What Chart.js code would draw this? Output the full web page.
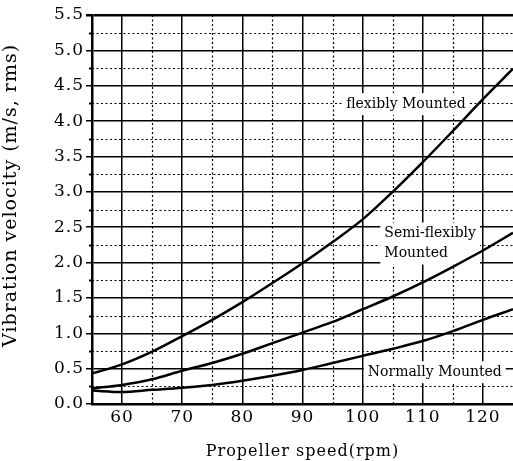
<!DOCTYPE html>
<html>
<head>
<meta charset="utf-8">
<script src="https://cdn.jsdelivr.net/npm/chart.js@4/dist/chart.umd.min.js"></script>
<style>
  html, body { margin: 0; padding: 0; background: #fff; overflow: hidden; }
  #wrap { width: 513px; height: 461px; position: relative; }
</style>
</head>
<body>
<div id="wrap"><canvas id="myChart"></canvas></div>
<script>
// propeller speed (rpm)
var speeds = [55, 60, 65, 70, 75, 80, 85, 90, 95, 100, 105, 110, 115, 120, 125]
var xTicks = [60, 70, 80, 90, 100, 110, 120]
// vibration velocity (m/s, rms)
var flexibly = [0.43, 0.56, 0.74, 0.96, 1.19, 1.44, 1.71, 1.99, 2.29, 2.61, 3.00, 3.42, 3.86, 4.31, 4.74]
var semiFlexibly = [0.22, 0.27, 0.35, 0.47, 0.58, 0.71, 0.86, 1.01, 1.16, 1.34, 1.52, 1.72, 1.94, 2.17, 2.42]
var normally = [0.19, 0.17, 0.20, 0.23, 0.27, 0.33, 0.40, 0.48, 0.58, 0.68, 0.78, 0.89, 1.03, 1.19, 1.34]

var labels = [
  { lines: ["flexibly Mounted"], x: 107.2, y: 4.24, align: "center" },
  { lines: ["Semi-flexibly", "Mounted"], x: 103.6, y: 2.41, align: "left" },
  { lines: ["Normally Mounted"], x: 112.0, y: 0.45, align: "center" }
]

var FONT = "DejaVu Serif"
Chart.defaults.font.family = FONT
Chart.defaults.color = "#000"

function toPoints(ys) {
  return speeds.map(function (s, i) { return { x: s, y: ys[i] } })
}

// dotted minor grid, small ticks on the left axis, curve labels (under the curves)
var minorGrid = {
  id: "minorGrid",
  beforeInit: function (chart) { chart.ctx.letterSpacing = "1px" },
  beforeDraw: function (chart) { chart.ctx.letterSpacing = "1px" },
  beforeDatasetsDraw: function (chart) {
    var ctx = chart.ctx, xs = chart.scales.x, ys = chart.scales.y, a = chart.chartArea
    ctx.save()
    ctx.strokeStyle = "#000"
    ctx.lineWidth = 1.2
    ctx.setLineDash([2, 2.5])
    for (var v = 65; v < 125; v += 10) {
      var px = Math.round(xs.getPixelForValue(v)) + 0.5
      ctx.beginPath(); ctx.moveTo(px, a.top); ctx.lineTo(px, a.bottom); ctx.stroke()
    }
    for (var w = 0.25; w < 5.5; w += 0.5) {
      var py = Math.round(ys.getPixelForValue(w)) + 0.5
      ctx.beginPath(); ctx.moveTo(a.left, py); ctx.lineTo(a.right, py); ctx.stroke()
    }
    ctx.setLineDash([])
    ctx.lineWidth = 2
    for (var u = 0.25; u < 5.5; u += 0.5) {
      var ty = Math.round(ys.getPixelForValue(u)) + 0.5
      ctx.beginPath(); ctx.moveTo(a.left - 3, ty); ctx.lineTo(a.left, ty); ctx.stroke()
    }

    ctx.letterSpacing = "0px"
    ctx.font = "14px " + FONT
    ctx.textBaseline = "middle"
    labels.forEach(function (l) {
      var lx = xs.getPixelForValue(l.x), ly = ys.getPixelForValue(l.y)
      var lh = 20
      var wmax = 0
      l.lines.forEach(function (t) { wmax = Math.max(wmax, ctx.measureText(t).width) })
      var left = l.align === "center" ? lx - wmax / 2 : lx
      var top = ly - lh / 2
      ctx.fillStyle = "#fff"
      ctx.fillRect(left - 4, top - 1, wmax + 8, lh * l.lines.length + 2)
      ctx.fillStyle = "#000"
      ctx.textAlign = "left"
      l.lines.forEach(function (t, i) {
        ctx.fillText(t, left, ly + i * lh)
      })
    })
    ctx.restore()
  }
}

var lineStyle = {
  borderColor: "#000",
  borderWidth: 2.5,
  pointRadius: 0,
  cubicInterpolationMode: "monotone",
  fill: false
}

var chart = new Chart(document.getElementById("myChart").getContext("2d"), {
  type: "line",
  data: {
    datasets: [
      Object.assign({ label: "flexibly Mounted", data: toPoints(flexibly) }, lineStyle),
      Object.assign({ label: "Semi-flexibly Mounted", data: toPoints(semiFlexibly) }, lineStyle),
      Object.assign({ label: "Normally Mounted", data: toPoints(normally) }, lineStyle)
    ]
  },
  options: {
    responsive: true,
    maintainAspectRatio: false,
    animation: false,
    layout: { padding: { top: 15, right: 0, left: 0, bottom: 0 } },
    plugins: { legend: { display: false }, tooltip: { enabled: false } },
    scales: {
      x: {
        type: "linear",
        min: 55,
        max: 125,
        afterBuildTicks: function (s) { s.ticks = xTicks.map(function (v) { return { value: v } }) },
        afterFit: function (s) { s.height = 57 },
        ticks: {
          font: { size: 17 },
          padding: 3,
          maxRotation: 0,
          autoSkip: false
        },
        grid: { color: "#000", lineWidth: 1.5, drawTicks: false },
        border: { color: "#000", width: 2.5 },
        title: { display: true, text: "Propeller speed(rpm)", font: { size: 16 }, padding: { top: 3, bottom: 0 } }
      },
      y: {
        min: 0,
        max: 5.5,
        afterFit: function (s) { s.width = 92 },
        ticks: {
          stepSize: 0.5,
          font: { size: 17 },
          padding: 2,
          callback: function (v) { return v.toFixed(1) }
        },
        grid: {
          color: "#000",
          lineWidth: function (c) { return c.tick && c.tick.value === 5.5 ? 2.5 : 1.5 },
          tickLength: 6
        },
        border: { color: "#000", width: 2.5 },
        // leading spaces nudge the centred title up, as in the original
        title: { display: true, text: "    Vibration velocity (m/s, rms)", font: { size: 19 }, padding: { top: 0, bottom: 2 } }
      }
    }
  },
  plugins: [minorGrid]
})
</script>
</body>
</html>
